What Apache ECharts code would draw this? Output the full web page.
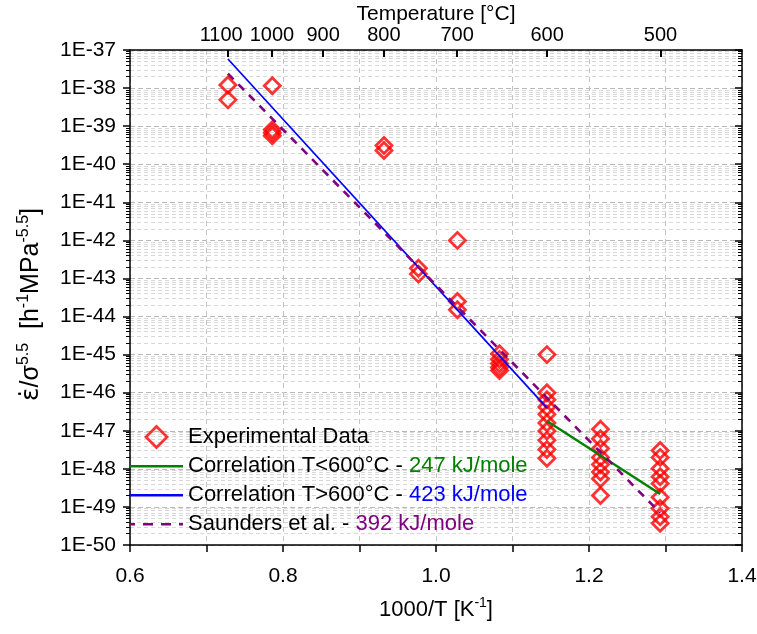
<!DOCTYPE html>
<html><head><meta charset="utf-8">
<script src="https://cdn.jsdelivr.net/npm/echarts@6/dist/echarts.min.js"></script>
<style>html,body{margin:0;padding:0;background:#fff}#c{width:757px;height:634px}</style>
</head><body><div id="c"></div>
<script>
const FONT = '"Liberation Sans", Arial, sans-serif';

// ---- Experimental data: 1000/T [1/K] per test temperature, and strain-rate / stress^5.5 values
const testTempsC = [1100, 1000, 800, 750, 700, 650, 600, 550, 500];
const testInvT   = [0.728, 0.786, 0.932, 0.977, 1.028, 1.083, 1.145, 1.215, 1.293];
const rate1100 = [1.2e-38, 4.9e-39];
const rate1000 = [1.15e-38, 8.1e-40, 6.7e-40, 5.6e-40];
const rate800  = [3.1e-40, 2.3e-40];
const rate750  = [1.86e-43, 1.3e-43];
const rate700  = [1.0e-42, 2.5e-44, 1.5e-44];
const rate650  = [1.05e-45, 7.5e-46, 5.8e-46, 4.6e-46, 3.8e-46];
const rate600  = [1.0e-45, 1.0e-46, 6.5e-47, 4.2e-47, 2.7e-47, 1.6e-47, 9.8e-48, 5.6e-48, 3.2e-48, 1.9e-48];
const rate550  = [1.1e-47, 6.2e-48, 3.4e-48, 2.0e-48, 1.3e-48, 8.3e-49, 5.5e-49, 2.0e-49];
const rate500  = [3.05e-48, 2.0e-48, 1.02e-48, 6.2e-49, 4.1e-49, 1.8e-49, 9.1e-50, 5.5e-50, 3.7e-50];
const ratesByTemp = [rate1100, rate1000, rate800, rate750, rate700, rate650, rate600, rate550, rate500];

// ---- Correlation lines (end points)
const fitLowX = [1.145, 1.293],  fitLowY = [1.8e-47, 2.2e-49];
const fitHighX = [0.728, 1.145], fitHighY = [5.8e-38, 4.0e-47];
const saundersX = [0.728, 1.293], saundersY = [2.4e-38, 7.0e-50];

// ---- Axis labels
const xTickLabels = [0.6, 0.8, 1.0, 1.2, 1.4];
const topTempLabels = [1100, 1000, 900, 800, 700, 600, 500];
const topTempPos = [0.7283, 0.7855, 0.8524, 0.9318, 1.0276, 1.1453, 1.2934];
const yExpMin = -50, yExpMax = -37;

// ---- Legend names / activation energies
const legendNames = ['Experimental Data', 'Correlation T<600°C', 'Correlation T>600°C', 'Saunders et al.'];
const legendEnergy = { 'Correlation T<600°C': ['g', '247 kJ/mole'], 'Correlation T>600°C': ['b', '423 kJ/mole'], 'Saunders et al.': ['p', '392 kJ/mole'] };

const lg = v => Math.log10(v);
const expData = [];
testInvT.forEach((x, i) => ratesByTemp[i].forEach(r => expData.push([x, lg(r)])));
const pairs = (xs, ys) => xs.map((x, i) => [x, lg(ys[i])]);

const minorVals = [];
for (let n = yExpMin; n < yExpMax; n++) for (let k = 2; k <= 9; k++) minorVals.push(n + Math.log10(k));

const chart = echarts.init(document.getElementById('c'), null, { renderer: 'canvas' });
const txt = { fontFamily: FONT, color: '#000' };
const supRich = (fs, ss, lift) => ({
  n: { fontSize: fs, fontFamily: FONT, color: '#000' },
  z: { fontSize: fs, fontFamily: FONT, color: '#000', padding: [0, 14, 0, 0] },
  e: { fontSize: fs, fontFamily: '"DejaVu Sans", sans-serif', color: '#000' },
  s: { fontSize: ss, fontFamily: FONT, color: '#000', padding: [0, 0, lift, 0] }
});

const solidIcon = 'path://M0,0H53V2.4H0Z';
const dashIcon = 'path://M0,0H5V2.6H0Z M13,0H23V2.6H13Z M31,0H41V2.6H31Z M49,0H53V2.6H49Z';
const diamondIcon = 'path://M8,0L16,8L8,16L0,8Z';

chart.setOption({
  animation: false,
  backgroundColor: '#fff',
  grid: { left: 130, right: 15, top: 50, bottom: 89, containLabel: false, outerBoundsMode: 'none' },
  xAxis: [
    {
      type: 'value', position: 'bottom', min: 0.6, max: 1.4, interval: 0.1,
      name: '{n|1000/T [K}{s|-1}{n|]}', nameLocation: 'middle', nameGap: 51, nameMoveOverlap: false,
      nameTextStyle: { rich: supRich(22, 14, 13) },
      axisLine: { show: true, onZero: false, lineStyle: { color: '#000', width: 1.5 } },
      axisTick: { show: true, inside: false, length: 7, lineStyle: { color: '#000', width: 1.5 } },
      axisLabel: { customValues: xTickLabels, margin: 21, fontSize: 21, ...txt, formatter: v => v.toFixed(1) },
      splitLine: { show: true, lineStyle: { color: '#c4c4c4', type: [5, 4], width: 1 } }
    },
    {
      type: 'value', position: 'top', min: 0.6, max: 1.4,
      name: 'Temperature [°C]', nameLocation: 'middle', nameGap: 25, nameMoveOverlap: false,
      nameTextStyle: { fontSize: 21, ...txt },
      axisLine: { show: true, onZero: false, lineStyle: { color: '#000', width: 1.5 } },
      axisTick: { show: true, inside: true, length: 7, customValues: topTempPos, lineStyle: { color: '#000', width: 2 } },
      axisLabel: { customValues: topTempPos, margin: 5, fontSize: 20, ...txt,
        rich: { l: { fontSize: 20, fontFamily: FONT, color: '#000', padding: [0, 14, 0, 0] } },
        formatter: v => {
          const i = topTempPos.findIndex(t => Math.abs(t - v) < 1e-6);
          if (i < 0) return '';
          return i === 0 ? '{l|' + topTempLabels[i] + '}' : String(topTempLabels[i]);
        } },
      splitLine: { show: false }
    }
  ],
  yAxis: [
    {
      type: 'value', position: 'left', min: yExpMin, max: yExpMax, interval: 1,
      name: '{e|\u03B5\u0307}{n|/\u03C3}{s|5.5}{n|  [h}{s|-1}{n|MPa}{s|-5.5}{z|]}',
      nameLocation: 'middle', nameGap: 84, nameRotate: 90, nameMoveOverlap: false,
      nameTextStyle: { rich: supRich(25, 16, 14) },
      axisLine: { show: true, onZero: false, lineStyle: { color: '#000', width: 1.5 } },
      axisTick: { show: true, inside: false, length: 7, lineStyle: { color: '#000', width: 1.5 } },
      axisLabel: { margin: 14, fontSize: 21, ...txt, formatter: v => '1E' + Math.round(v) },
      splitLine: { show: true, lineStyle: { color: '#b8b8b8', type: [5, 3], width: 1 } }
    },
    {
      type: 'value', position: 'left', min: yExpMin, max: yExpMax,
      axisLine: { show: false }, axisLabel: { show: false },
      axisTick: { show: true, inside: false, length: 4, customValues: minorVals, lineStyle: { color: '#000', width: 1 } },
      splitLine: { show: true, lineStyle: { color: '#d8d8d8', type: [4, 3], width: 1 } }
    },
    {
      type: 'value', position: 'right', min: yExpMin, max: yExpMax, interval: 1,
      axisLine: { show: true, onZero: false, lineStyle: { color: '#000', width: 1.5 } },
      axisLabel: { show: false },
      axisTick: { show: true, inside: true, length: 7, lineStyle: { color: '#000', width: 1.5 } },
      splitLine: { show: false }
    },
    {
      type: 'value', position: 'right', min: yExpMin, max: yExpMax,
      axisLine: { show: false }, axisLabel: { show: false },
      axisTick: { show: true, inside: true, length: 4, customValues: minorVals, lineStyle: { color: '#000', width: 1 } },
      splitLine: { show: false }
    }
  ],
  legend: {
    orient: 'vertical', left: 130, top: 425, padding: 0,
    itemWidth: 53, itemHeight: 21, itemGap: 6,
    data: [
      { name: legendNames[0], icon: diamondIcon, itemStyle: { borderWidth: 2.8, borderColor: '#ff0000', color: 'rgba(255,255,255,0)' } },
      { name: legendNames[1], icon: solidIcon },
      { name: legendNames[2], icon: solidIcon },
      { name: legendNames[3], icon: dashIcon }
    ],
    textStyle: { fontSize: 22, fontFamily: FONT, color: '#000', lineHeight: 23,
      rich: {
        t: { fontSize: 22, fontFamily: FONT, color: '#000' },
        g: { fontSize: 22, fontFamily: FONT, color: '#008000' },
        b: { fontSize: 22, fontFamily: FONT, color: '#0000ff' },
        p: { fontSize: 22, fontFamily: FONT, color: '#800080' }
      } },
    formatter: name => legendEnergy[name] ? `{t|${name} - }{${legendEnergy[name][0]}|${legendEnergy[name][1]}}` : `{t|${name}}`
  },
  series: [
    {
      name: legendNames[0], type: 'scatter', xAxisIndex: 0, yAxisIndex: 0,
      symbol: 'diamond', symbolSize: 16,
      itemStyle: { color: 'rgba(255,255,255,0)', borderColor: '#ff0000', borderWidth: 2.8 },
      data: expData, z: 2
    },
    {
      name: legendNames[1], type: 'line', xAxisIndex: 0, yAxisIndex: 0, symbol: 'none',
      lineStyle: { color: '#008000', width: 2.4 }, itemStyle: { color: '#008000', borderWidth: 0 },
      data: pairs(fitLowX, fitLowY), z: 3
    },
    {
      name: legendNames[2], type: 'line', xAxisIndex: 0, yAxisIndex: 0, symbol: 'none',
      lineStyle: { color: '#0000ff', width: 1.7 }, itemStyle: { color: '#0000ff', borderWidth: 0 },
      data: pairs(fitHighX, fitHighY), z: 3
    },
    {
      name: legendNames[3], type: 'line', xAxisIndex: 0, yAxisIndex: 0, symbol: 'none',
      lineStyle: { color: '#800080', width: 2.6, type: [8, 7] }, itemStyle: { color: '#800080', borderWidth: 0 },
      data: pairs(saundersX, saundersY), z: 3
    }
  ]
});
</script></body></html>
